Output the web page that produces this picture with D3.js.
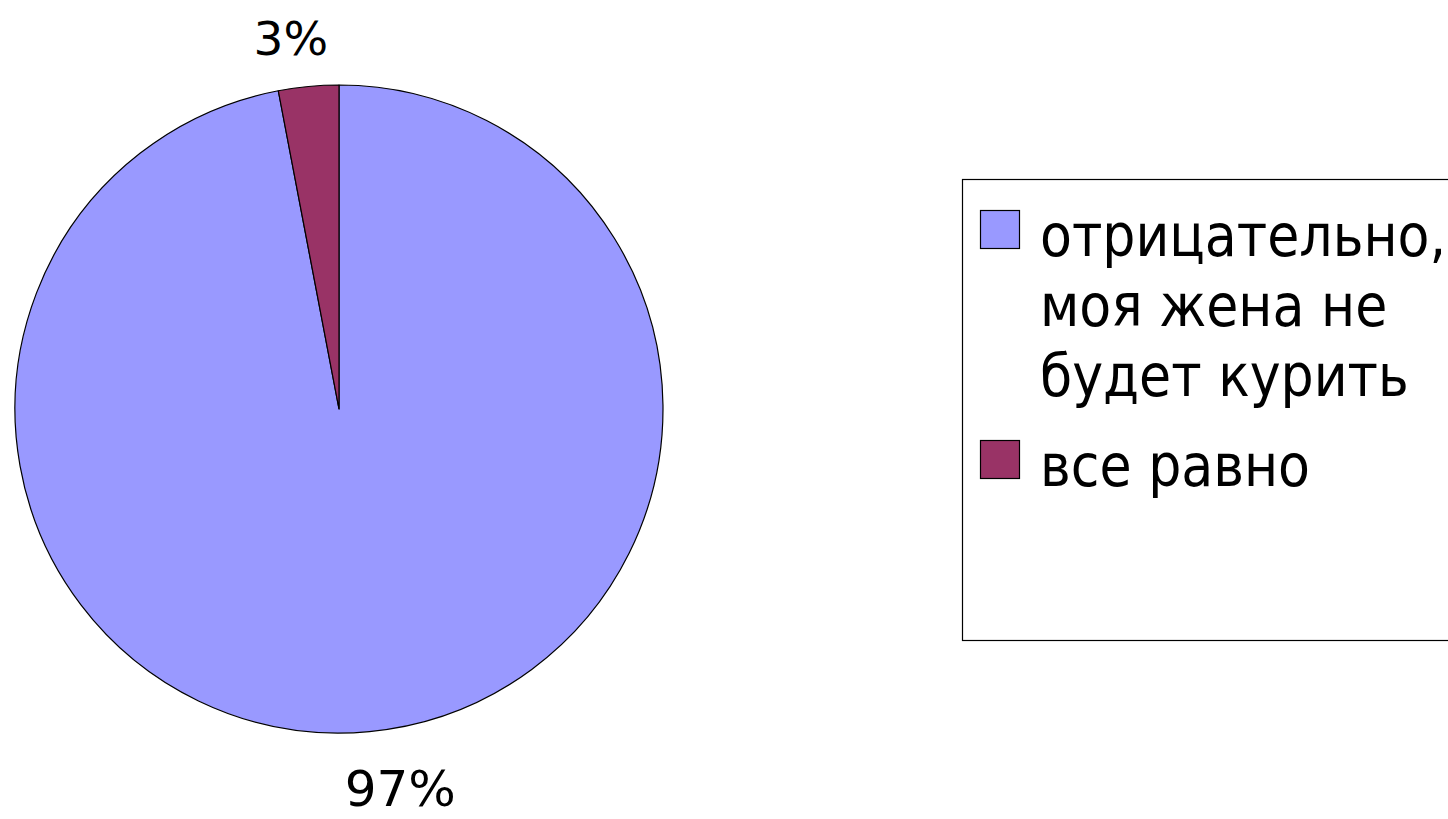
<!DOCTYPE html>
<html>
<head>
<meta charset="utf-8">
<script src="https://cdn.jsdelivr.net/npm/d3@7"></script>
<style>
  html, body { margin: 0; padding: 0; background: #fff; }
  svg { display: block; }
  text { font-family: "DejaVu Sans", Verdana, sans-serif; fill: #000; }
  .legend-text { font-family: "DejaVu Sans Condensed", "DejaVu Sans", sans-serif; font-stretch: condensed; }
</style>
</head>
<body>
<svg id="chart" width="1448" height="819"></svg>
<script>
// Attitude towards a wife smoking (share of answers, %)
const categories = ["отрицательно, моя жена не будет курить", "все равно"];
const legendLines = [["отрицательно,", "моя жена не", "будет курить"], ["все равно"]];
const values = [97, 3];
const labels = ["97%", "3%"];
const colors = ["#9999FF", "#993366"];

const svg = d3.select("#chart");
const cx = 339, cy = 409, radius = 324;

const pie = d3.pie().sort(null).value(d => d)(values);
const arc = d3.arc().innerRadius(0).outerRadius(radius);

const g = svg.append("g").attr("transform", `translate(${cx},${cy})`);

g.selectAll("path.slice")
  .data(pie)
  .join("path")
  .attr("class", "slice")
  .attr("d", arc)
  .attr("fill", (d, i) => colors[i])
  .attr("stroke", "#000")
  .attr("stroke-width", 1.2)
  .attr("stroke-linejoin", "round");

// Percentage labels just outside the rim, pushed sideways away from the centre
const labelArc = d3.arc().innerRadius(radius + 50).outerRadius(radius + 50);
const labelShift = [[26, 8], [-13, 2]];
const labelSize = [50, 47];
g.selectAll("text.pct")
  .data(pie)
  .join("text")
  .attr("class", "pct")
  .attr("x", (d, i) => labelArc.centroid(d)[0] + labelShift[i][0])
  .attr("y", (d, i) => labelArc.centroid(d)[1] + labelShift[i][1])
  .attr("text-anchor", "middle")
  .attr("dominant-baseline", "central")
  .attr("font-size", (d, i) => labelSize[i])
  .text((d, i) => labels[i]);

// Legend
const legend = svg.append("g");
legend.append("rect")
  .attr("x", 962.5).attr("y", 179.5)
  .attr("width", 520).attr("height", 461)
  .attr("fill", "#fff").attr("stroke", "#000").attr("stroke-width", 1.2);

const lineH = 70;
const entryTop = [210, 440];
categories.forEach((c, i) => {
  legend.append("rect")
    .attr("x", 980.5).attr("y", entryTop[i] + 0.5)
    .attr("width", 39).attr("height", 38)
    .attr("fill", colors[i]).attr("stroke", "#000").attr("stroke-width", 1.2);
  const t = legend.append("text")
    .attr("class", "legend-text")
    .attr("x", 1040).attr("y", entryTop[i] + 46)
    .attr("font-size", 58);
  legendLines[i].forEach((ln, j) => {
    t.append("tspan").attr("x", 1040).attr("dy", j === 0 ? 0 : lineH).text(ln);
  });
});
</script>
</body>
</html>
